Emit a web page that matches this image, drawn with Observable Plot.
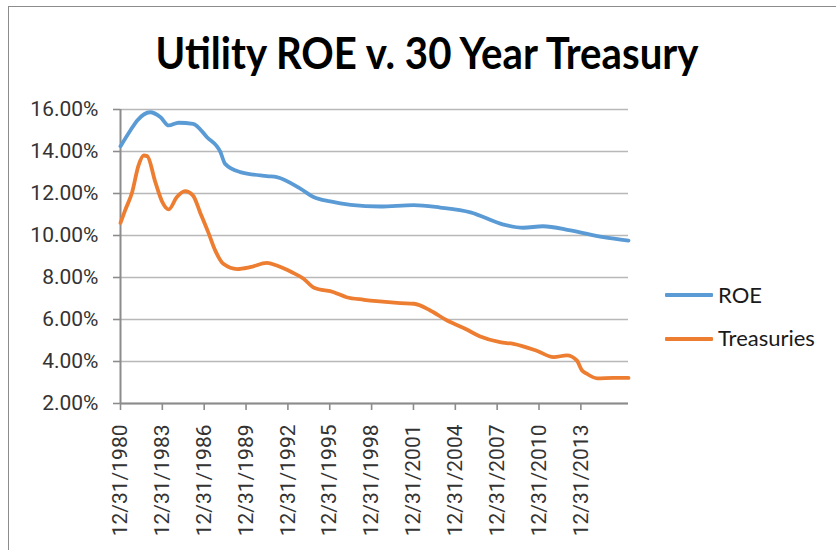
<!DOCTYPE html>
<html>
<head>
<meta charset="utf-8">
<script src="https://cdn.jsdelivr.net/npm/d3@7"></script>
<script src="https://cdn.jsdelivr.net/npm/@observablehq/plot@0.6"></script>
<style>
  html, body { margin: 0; padding: 0; background: #fff; }
  #wrap { position: relative; width: 836px; height: 550px; overflow: hidden; font-family: Roboto, "Liberation Sans", sans-serif; }
  #frame { position: absolute; left: 8px; top: 6px; width: 1000px; height: 1000px; border: 1.5px solid #8c8c8c; box-sizing: border-box; }
  #titlebox { position: relative; height: 95px; }
  #title { position: absolute; left: 427px; top: 30px; font-family: Lato, "Open Sans", sans-serif; font-size: 44px; line-height: 1; font-weight: 700; color: #000; white-space: nowrap; transform-origin: 0 0; }
  #chart { position: relative; }
  .lg-line { position: absolute; left: 665px; width: 48px; height: 3.5px; border-radius: 1px; }
  .lg-text { position: absolute; left: 718px; font-family: Lato, Roboto, sans-serif; font-size: 22px; line-height: 1; color: #1a1a1a; white-space: nowrap; }
</style>
</head>
<body>
<div id="wrap">
  <div id="frame"></div>
  <div id="titlebox"><span id="title">Utility ROE v. 30 Year Treasury</span></div>
  <div id="chart"></div>
  <div class="lg-line" style="top:293px;background:#5B9BD5"></div>
  <div class="lg-text" style="top:284px">ROE</div>
  <div class="lg-line" style="top:337px;background:#ED7D31"></div>
  <div class="lg-text" style="top:327px">Treasuries</div>
</div>
<script>
// ---- data (percent) ----
const seriesNames = ["ROE", "Treasuries"];
const seriesColors = ["#5B9BD5", "#ED7D31"];

const roeDates = ["1980-12-31","1981-09-15","1982-03-15","1983-02-15","1983-11-15","1984-06-15","1985-03-01","1986-03-15","1987-03-15","1988-03-01","1988-07-01","1989-08-01","1991-07-01","1992-03-15","1993-12-01","1994-11-01","1996-01-15","1997-07-01","1999-08-15","2002-01-01","2003-12-01","2006-02-01","2008-06-15","2009-11-15","2011-04-15","2013-04-01","2015-08-15","2017-05-31"];
const roeValues = [14.25,15.0,15.48,15.87,15.63,15.24,15.37,15.32,14.68,13.97,13.41,13.02,12.83,12.78,12.22,11.83,11.62,11.46,11.38,11.45,11.33,11.10,10.52,10.37,10.44,10.24,9.92,9.76];

const tsyDates = ["1980-12-31","1981-05-01","1981-11-01","1982-04-15","1982-09-01","1982-12-01","1983-07-01","1984-01-01","1984-06-15","1985-01-15","1985-08-15","1986-03-15","1986-09-15","1987-04-15","1987-10-15","1988-05-15","1989-05-15","1990-04-15","1991-07-01","1992-03-15","1993-04-15","1994-02-15","1994-11-15","1996-04-15","1997-03-15","1998-06-15","1999-05-15","2001-01-15","2002-01-15","2003-03-15","2004-06-01","2005-09-15","2006-10-15","2008-03-15","2009-03-01","2010-11-15","2012-01-15","2013-01-01","2013-09-15","2014-02-01","2014-06-01","2015-03-01","2016-05-01","2017-05-31"];
const tsyValues = [10.6,11.2,12.06,13.33,13.81,13.78,12.54,11.59,11.24,11.83,12.11,11.9,11.1,10.16,9.29,8.65,8.4,8.49,8.7,8.57,8.25,7.94,7.51,7.3,7.06,6.94,6.87,6.78,6.75,6.43,5.95,5.56,5.19,4.92,4.84,4.5,4.21,4.29,4.05,3.57,3.42,3.2,3.22,3.22];

const yTicks = [2, 4, 6, 8, 10, 12, 14, 16];
const xTickYears = [1980, 1983, 1986, 1989, 1992, 1995, 1998, 2001, 2004, 2007, 2010, 2013];
const xStart = "1980-12-31";
const xEnd = "2017-05-31";

// ---- build ----
const rows = [
  ...roeDates.map((d, i) => ({series: seriesNames[0], date: new Date(d), value: roeValues[i]})),
  ...tsyDates.map((d, i) => ({series: seriesNames[1], date: new Date(d), value: tsyValues[i]}))
];
const xTicks = xTickYears.map(y => new Date(`${y}-12-31`));

const chart = Plot.plot({
  width: 836,
  height: 455,
  marginTop: 14,
  marginBottom: 147,
  marginLeft: 120,
  marginRight: 208,
  style: {fontFamily: "Roboto, 'Liberation Sans', sans-serif", background: "transparent", color: "#333"},
  x: {type: "utc", domain: [new Date(xStart), new Date(xEnd)]},
  y: {domain: [2, 16]},
  marks: [
    Plot.gridY(yTicks, {stroke: "#b8b8b8", strokeOpacity: 1, strokeWidth: 1.6}),
    Plot.axisY(yTicks, {tickSize: 7, tickPadding: 15, fontSize: 21, stroke: "#8c8c8c", strokeWidth: 1.6, tickFormat: d => d.toFixed(2) + "%", label: null, fill: "#333"}),
    Plot.axisX(xTicks, {tickSize: 7, tickPadding: 14, tickRotate: -90, fontSize: 21, stroke: "#8c8c8c", strokeWidth: 1.6, tickFormat: d => `12/31/${d.getUTCFullYear()}`, label: null, fill: "#333"}),
    Plot.ruleX([new Date(xStart)], {y1: 2, y2: 16, stroke: "#8c8c8c", strokeWidth: 2}),
    Plot.ruleY([2], {stroke: "#8c8c8c", strokeWidth: 2}),
    Plot.line(rows, {x: "date", y: "value", z: "series", stroke: "series", strokeWidth: 3.8, curve: "monotone-x"})
  ],
  color: {domain: seriesNames, range: seriesColors}
});
document.getElementById("chart").appendChild(chart);

// fit the title width to the reference
const t = document.getElementById("title");
const w = t.getBoundingClientRect().width;
const target = 543;
t.style.transform = `scaleX(${target / w}) translateX(-50%)`;
</script>
</body>
</html>
